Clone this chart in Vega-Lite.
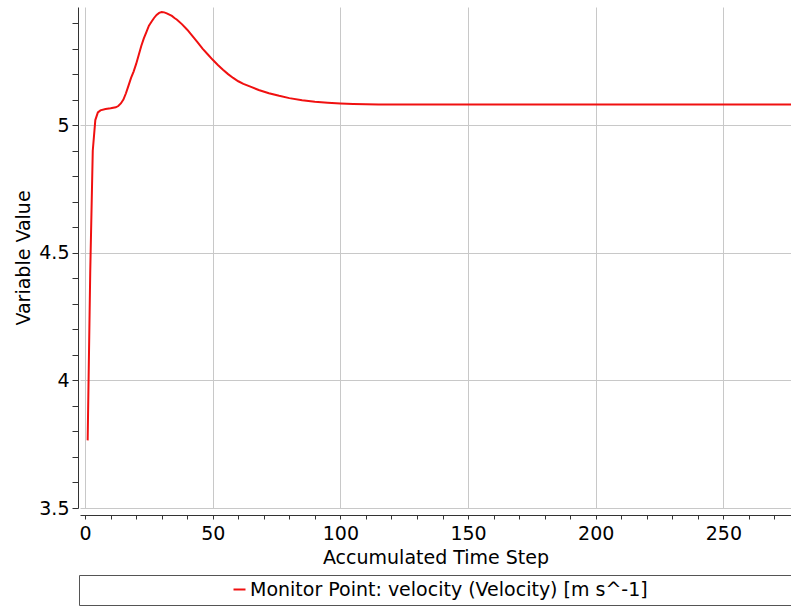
{
  "$schema": "https://vega.github.io/schema/vega-lite/v6.json",
  "autosize": "none",
  "width": 711,
  "height": 501,
  "padding": {"left": 80, "top": 7, "right": 0, "bottom": 99},
  "background": "white",
  "config": {
    "view": {"stroke": null},
    "font": "DejaVu Sans",
    "axis": {
      "labelFont": "DejaVu Sans",
      "titleFont": "DejaVu Sans",
      "labelFontSize": 19,
      "titleFontSize": 19,
      "titleFontWeight": "normal",
      "labelColor": "#000",
      "titleColor": "#000",
      "domainColor": "#333",
      "tickColor": "#333",
      "gridColor": "#c8c8c8",
      "gridWidth": 1
    }
  },
  "data": {
    "values": [
      {"step": 1, "value": 3.765, "series": "Monitor Point: velocity (Velocity) [m s^-1]"},
      {"step": 2, "value": 4.42, "series": "Monitor Point: velocity (Velocity) [m s^-1]"},
      {"step": 3, "value": 4.9, "series": "Monitor Point: velocity (Velocity) [m s^-1]"},
      {"step": 4, "value": 5.02, "series": "Monitor Point: velocity (Velocity) [m s^-1]"},
      {"step": 5, "value": 5.05, "series": "Monitor Point: velocity (Velocity) [m s^-1]"},
      {"step": 6, "value": 5.058, "series": "Monitor Point: velocity (Velocity) [m s^-1]"},
      {"step": 8, "value": 5.063, "series": "Monitor Point: velocity (Velocity) [m s^-1]"},
      {"step": 10, "value": 5.066, "series": "Monitor Point: velocity (Velocity) [m s^-1]"},
      {"step": 12, "value": 5.07, "series": "Monitor Point: velocity (Velocity) [m s^-1]"},
      {"step": 13, "value": 5.075, "series": "Monitor Point: velocity (Velocity) [m s^-1]"},
      {"step": 14, "value": 5.085, "series": "Monitor Point: velocity (Velocity) [m s^-1]"},
      {"step": 15, "value": 5.1, "series": "Monitor Point: velocity (Velocity) [m s^-1]"},
      {"step": 16, "value": 5.125, "series": "Monitor Point: velocity (Velocity) [m s^-1]"},
      {"step": 17, "value": 5.155, "series": "Monitor Point: velocity (Velocity) [m s^-1]"},
      {"step": 18, "value": 5.185, "series": "Monitor Point: velocity (Velocity) [m s^-1]"},
      {"step": 19, "value": 5.21, "series": "Monitor Point: velocity (Velocity) [m s^-1]"},
      {"step": 20, "value": 5.24, "series": "Monitor Point: velocity (Velocity) [m s^-1]"},
      {"step": 21, "value": 5.275, "series": "Monitor Point: velocity (Velocity) [m s^-1]"},
      {"step": 22, "value": 5.31, "series": "Monitor Point: velocity (Velocity) [m s^-1]"},
      {"step": 23, "value": 5.34, "series": "Monitor Point: velocity (Velocity) [m s^-1]"},
      {"step": 24, "value": 5.365, "series": "Monitor Point: velocity (Velocity) [m s^-1]"},
      {"step": 25, "value": 5.39, "series": "Monitor Point: velocity (Velocity) [m s^-1]"},
      {"step": 26, "value": 5.405, "series": "Monitor Point: velocity (Velocity) [m s^-1]"},
      {"step": 27, "value": 5.42, "series": "Monitor Point: velocity (Velocity) [m s^-1]"},
      {"step": 28, "value": 5.432, "series": "Monitor Point: velocity (Velocity) [m s^-1]"},
      {"step": 29, "value": 5.44, "series": "Monitor Point: velocity (Velocity) [m s^-1]"},
      {"step": 30, "value": 5.443, "series": "Monitor Point: velocity (Velocity) [m s^-1]"},
      {"step": 31, "value": 5.442, "series": "Monitor Point: velocity (Velocity) [m s^-1]"},
      {"step": 32, "value": 5.438, "series": "Monitor Point: velocity (Velocity) [m s^-1]"},
      {"step": 33, "value": 5.433, "series": "Monitor Point: velocity (Velocity) [m s^-1]"},
      {"step": 34, "value": 5.428, "series": "Monitor Point: velocity (Velocity) [m s^-1]"},
      {"step": 35, "value": 5.42, "series": "Monitor Point: velocity (Velocity) [m s^-1]"},
      {"step": 36, "value": 5.413, "series": "Monitor Point: velocity (Velocity) [m s^-1]"},
      {"step": 38, "value": 5.395, "series": "Monitor Point: velocity (Velocity) [m s^-1]"},
      {"step": 40, "value": 5.374, "series": "Monitor Point: velocity (Velocity) [m s^-1]"},
      {"step": 42, "value": 5.35, "series": "Monitor Point: velocity (Velocity) [m s^-1]"},
      {"step": 44, "value": 5.325, "series": "Monitor Point: velocity (Velocity) [m s^-1]"},
      {"step": 46, "value": 5.3, "series": "Monitor Point: velocity (Velocity) [m s^-1]"},
      {"step": 48, "value": 5.278, "series": "Monitor Point: velocity (Velocity) [m s^-1]"},
      {"step": 50, "value": 5.256, "series": "Monitor Point: velocity (Velocity) [m s^-1]"},
      {"step": 52, "value": 5.236, "series": "Monitor Point: velocity (Velocity) [m s^-1]"},
      {"step": 54, "value": 5.217, "series": "Monitor Point: velocity (Velocity) [m s^-1]"},
      {"step": 56, "value": 5.2, "series": "Monitor Point: velocity (Velocity) [m s^-1]"},
      {"step": 58, "value": 5.185, "series": "Monitor Point: velocity (Velocity) [m s^-1]"},
      {"step": 60, "value": 5.172, "series": "Monitor Point: velocity (Velocity) [m s^-1]"},
      {"step": 62, "value": 5.162, "series": "Monitor Point: velocity (Velocity) [m s^-1]"},
      {"step": 65, "value": 5.15, "series": "Monitor Point: velocity (Velocity) [m s^-1]"},
      {"step": 68, "value": 5.138, "series": "Monitor Point: velocity (Velocity) [m s^-1]"},
      {"step": 72, "value": 5.125, "series": "Monitor Point: velocity (Velocity) [m s^-1]"},
      {"step": 76, "value": 5.115, "series": "Monitor Point: velocity (Velocity) [m s^-1]"},
      {"step": 80, "value": 5.106, "series": "Monitor Point: velocity (Velocity) [m s^-1]"},
      {"step": 85, "value": 5.098, "series": "Monitor Point: velocity (Velocity) [m s^-1]"},
      {"step": 90, "value": 5.092, "series": "Monitor Point: velocity (Velocity) [m s^-1]"},
      {"step": 95, "value": 5.088, "series": "Monitor Point: velocity (Velocity) [m s^-1]"},
      {"step": 100, "value": 5.085, "series": "Monitor Point: velocity (Velocity) [m s^-1]"},
      {"step": 105, "value": 5.083, "series": "Monitor Point: velocity (Velocity) [m s^-1]"},
      {"step": 110, "value": 5.082, "series": "Monitor Point: velocity (Velocity) [m s^-1]"},
      {"step": 115, "value": 5.081, "series": "Monitor Point: velocity (Velocity) [m s^-1]"},
      {"step": 150, "value": 5.081, "series": "Monitor Point: velocity (Velocity) [m s^-1]"},
      {"step": 200, "value": 5.081, "series": "Monitor Point: velocity (Velocity) [m s^-1]"},
      {"step": 250, "value": 5.081, "series": "Monitor Point: velocity (Velocity) [m s^-1]"},
      {"step": 276.5, "value": 5.081, "series": "Monitor Point: velocity (Velocity) [m s^-1]"}
    ]
  },
  "mark": {"type": "line", "strokeWidth": 2, "clip": true},
  "encoding": {
    "x": {
      "field": "step",
      "type": "quantitative",
      "scale": {"domain": [-2, 276.5], "nice": false, "zero": false},
      "axis": {
        "title": "Accumulated Time Step",
        "values": [0, 10, 20, 30, 40, 50, 60, 70, 80, 90, 100, 110, 120, 130, 140, 150, 160, 170, 180, 190, 200, 210, 220, 230, 240, 250, 260, 270],
        "labelExpr": "datum.value % 50 == 0 ? datum.label : ''",
        "gridOpacity": {"condition": {"test": "datum.value % 50 == 0", "value": 1}, "value": 0},
        "offset": 7,
        "tickSize": 4,
        "labelPadding": 5,
        "titlePadding": 5,
        "labelFlush": false,
        "labelOverlap": false
      }
    },
    "y": {
      "field": "value",
      "type": "quantitative",
      "scale": {"domain": [3.5, 5.463], "nice": false, "zero": false},
      "axis": {
        "title": "Variable Value",
        "values": [3.5, 3.6, 3.7, 3.8, 3.9, 4.0, 4.1, 4.2, 4.3, 4.4, 4.5, 4.6, 4.7, 4.8, 4.9, 5.0, 5.1, 5.2, 5.3, 5.4],
        "labelExpr": "abs(datum.value * 2 - round(datum.value * 2)) < 0.001 ? format(datum.value, '~g') : ''",
        "gridOpacity": {"condition": {"test": "abs(datum.value * 2 - round(datum.value * 2)) < 0.001", "value": 1}, "value": 0},
        "offset": 2,
        "tickSize": 6,
        "labelPadding": 3,
        "titlePadding": 5,
        "labelFlush": false,
        "labelOverlap": false
      }
    },
    "color": {
      "field": "series",
      "type": "nominal",
      "scale": {"range": ["#f01010"]},
      "legend": {
        "title": null,
        "orient": "none",
        "legendX": -1,
        "legendY": 568,
        "direction": "horizontal",
        "symbolType": "stroke",
        "symbolSize": 144,
        "symbolStrokeWidth": 2,
        "symbolOffset": 146,
        "labelOffset": 1,
        "labelFont": "DejaVu Sans",
        "labelFontSize": 19,
        "labelColor": "#000",
        "labelLimit": 900,
        "labelExpr": "datum.label + '\u2800\u2800\u2800\u2800\u2800\u2800\u2800\u2800\u2800\u2800'",
        "strokeColor": "#555",
        "padding": 5,
        "fillColor": "white"
      }
    }
  }
}
